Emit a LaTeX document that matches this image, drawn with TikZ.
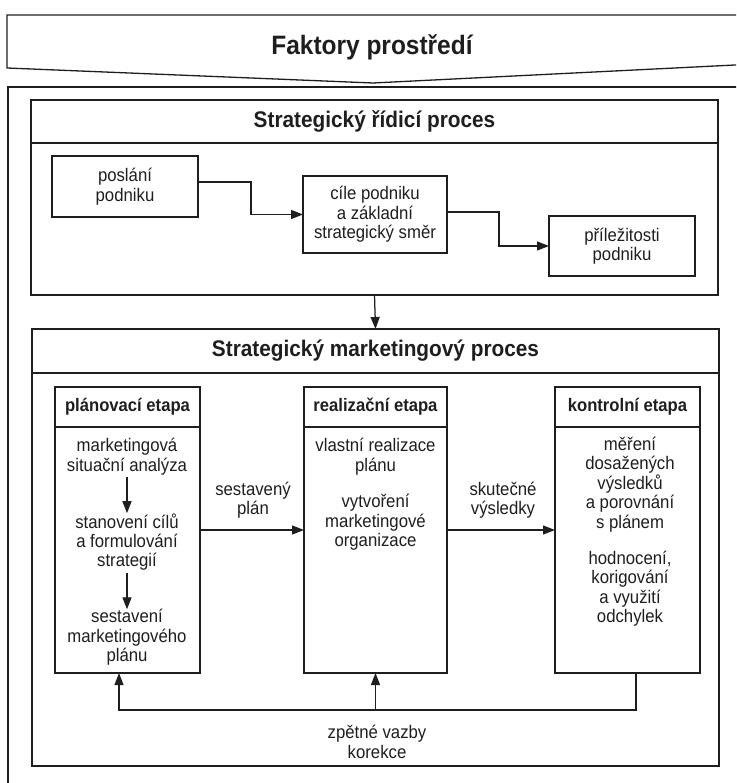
\documentclass[tikz,border=0pt]{standalone}
\usepackage{fontspec}
\setmainfont[FakeStretch=0.92]{Liberation Sans}
\usetikzlibrary{arrows.meta}
\definecolor{ink}{RGB}{30,30,30}
\begin{document}
\begin{tikzpicture}[x=1pt,y=-1pt,
  color=ink,
  frame/.style={draw=ink, line width=1.3pt, rectangle, inner sep=0pt, outer sep=0pt},
  boxtext/.style={align=center, inner sep=0pt, font=\fontsize{18.2}{19.4}\selectfont},
  titletext/.style={font=\bfseries\fontsize{22.6}{26}\selectfont},
  headtext/.style={font=\bfseries\fontsize{18.1}{20}\selectfont},
  link/.style={draw=ink, line width=1.25pt},
  flow/.style={link, -{Triangle[length=12pt,width=9pt]}},
  ]
\useasboundingbox (0,0) rectangle (736,783);
\clip (0,0) rectangle (736,783);

% environment banner and the frame it sits above
\draw[line width=1.3pt, line join=miter] (745,15) -- (7,15) -- (7,68) -- (373,83) -- (745,64.5);
\node[font=\bfseries\fontsize{26.6}{30}\selectfont, inner sep=0pt] (env) at (372,47) {Faktory prostředí};
\draw[line width=1.3pt] (745,87) -- (8,87) -- (8,800);

% strategic management process
\node[frame, minimum width=687pt, minimum height=195pt] (srp) at (374.5,197.5) {};
\node[frame, titletext, minimum width=687pt, minimum height=43pt] (srpT) at (374.5,121.5) {Strategický řídicí proces};
\node[frame, boxtext, minimum width=146pt, minimum height=61pt] (mission) at (125,186.5) {poslání\\podniku};
\node[frame, boxtext, minimum width=144pt, minimum height=77pt] (goals) at (375,214.5) {cíle podniku\\a základní\\strategický směr};
\node[frame, boxtext, minimum width=146pt, minimum height=60pt] (opps) at (622,246) {příležitosti\\podniku};

\draw[flow] ([yshift=4.5pt]mission.east) -- ++(53,0) |- (goals.west);
\draw[flow] ([yshift=2.5pt]goals.east) -- ++(52,0) |- (opps.west);

% strategic marketing process
\node[frame, minimum width=687pt, minimum height=437pt] (smp) at (375.5,547.5) {};
\node[frame, titletext, minimum width=687pt, minimum height=44pt] (smpT) at (375.5,351) {Strategický marketingový proces};
\draw[flow] (srp.south) -- (smpT.north);

% stages
\node[frame, minimum width=145pt, minimum height=286pt] (plan) at (127.5,530) {};
\node[frame, headtext, minimum width=145pt, minimum height=40pt] (planH) at (127.5,407) {plánovací etapa};
\node[frame, minimum width=143pt, minimum height=286pt] (real) at (375.5,530) {};
\node[frame, headtext, minimum width=143pt, minimum height=40pt] (realH) at (375.5,407) {realizační etapa};
\node[frame, minimum width=145pt, minimum height=286pt] (ctrl) at (627.5,530) {};
\node[frame, headtext, minimum width=145pt, minimum height=40pt] (ctrlH) at (627.5,407) {kontrolní etapa};

\node[boxtext] (plan1) at (127,456.5) {marketingová\\situační analýza};
\node[boxtext] (plan2) at (127,542) {stanovení cílů\\a formulování\\strategií};
\node[boxtext] (plan3) at (127,637.5) {sestavení\\marketingového\\plánu};
\draw[flow, shorten <=2pt] (plan1) -- (plan2);
\draw[flow, shorten <=2pt] (plan2) -- (plan3);

\node[boxtext] (real1) at (375.5,456.5) {vlastní realizace\\plánu};
\node[boxtext] (real2) at (375.5,522.5) {vytvoření\\marketingové\\organizace};

\node[boxtext] (ctrl1) at (630,484.5) {měření\\dosažených\\výsledků\\a porovnání\\s plánem};
\node[boxtext] (ctrl2) at (630,588.5) {hodnocení,\\korigování\\a využití\\odchylek};

% hand-over between stages
\draw[flow] (plan) -- (real);
\node[boxtext] (planned) at (253,500) {sestavený\\plán};
\draw[flow] (real) -- (ctrl);
\node[boxtext] (actual) at (503,500) {skutečné\\výsledky};

% feedback loop
\coordinate (fb) at (375.5,710);
\draw[link] ([xshift=8.5pt]ctrl.south) |- (fb);
\draw[flow] (fb) -| ([xshift=-8.5pt]plan.south);
\draw[flow] (fb) -- (real.south);
\node[boxtext] (fbl) at (377,742) {zpětné vazby\\korekce};
\end{tikzpicture}
\end{document}
